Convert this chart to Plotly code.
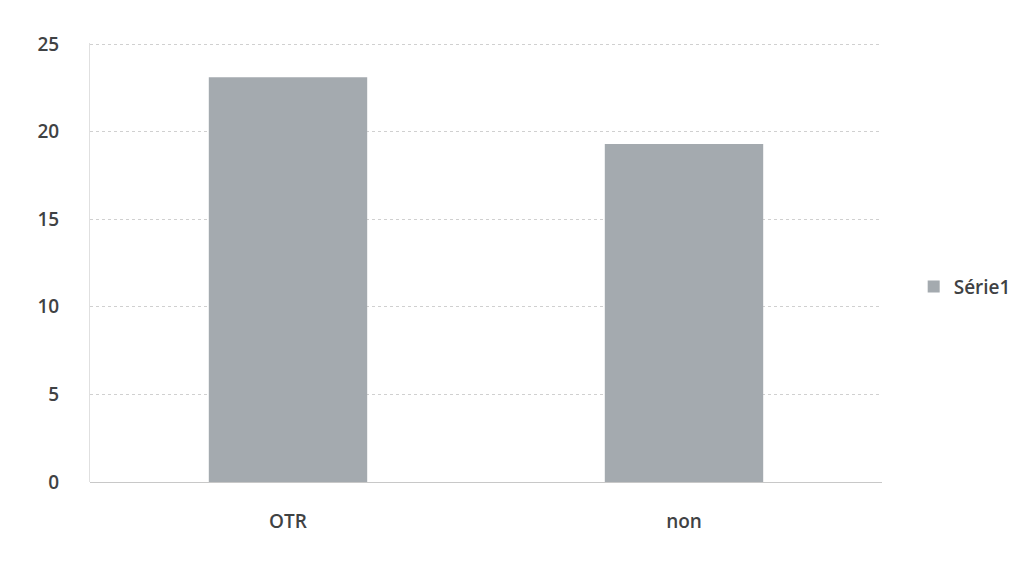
import plotly.graph_objects as go

categories = ["OTR", "non"]
values = [23.1, 19.3]
series_name = "Série1"
y_ticks = [0, 5, 10, 15, 20, 25]

fig = go.Figure()
fig.add_trace(go.Bar(
    x=categories, y=values, name=series_name,
    marker=dict(color="#a4aaaf", line=dict(width=0)),
    showlegend=True,
))

fig.update_layout(
    width=1032, height=562,
    paper_bgcolor="white", plot_bgcolor="white",
    margin=dict(l=90, r=150, t=43, b=80),
    bargap=0.6,
    font=dict(family="Open Sans, Lato, sans-serif", color="#3f4244", size=19, weight=600),
    showlegend=True,
    legend=dict(x=1.04, y=0.445, xanchor="left", yanchor="middle",
                font=dict(size=19, color="#3f4244", weight=600),
                itemwidth=30, bgcolor="rgba(0,0,0,0)"),
    xaxis=dict(
        showgrid=False, showline=False, zeroline=False,
        ticks="", ticklabelstandoff=26,
        tickfont=dict(size=19, weight=600),
    ),
    yaxis=dict(
        range=[0, 25.06], tickvals=y_ticks,
        showgrid=True, gridcolor="#d0d0d0", griddash="dot", gridwidth=1,
        zeroline=True, zerolinecolor="#c8c8c8", zerolinewidth=1,
        showline=True, linecolor="#e0e0e0", linewidth=1,
        ticks="", ticklabelstandoff=26,
        tickfont=dict(size=19, weight=600),
    ),
)

fig.write_html("out.html")
